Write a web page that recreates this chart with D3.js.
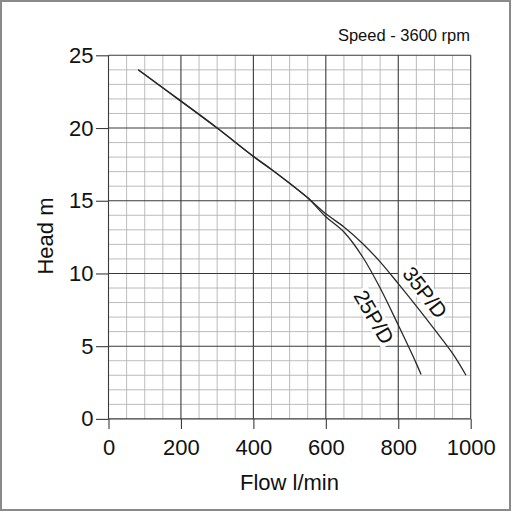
<!DOCTYPE html>
<html>
<head>
<meta charset="utf-8">
<script src="https://cdn.jsdelivr.net/npm/d3@7"></script>
<style>
  html, body { margin: 0; padding: 0; background: #fff; }
  svg { display: block; font-family: "Liberation Sans", Arial, sans-serif; }
</style>
</head>
<body>
<svg id="chart" width="512" height="512"></svg>
<script>
// ---- data ----
const xTicks = [0, 200, 400, 600, 800, 1000];
const yTicks = [0, 5, 10, 15, 20, 25];
const commonFlow = [82, 200, 300, 400, 450, 500, 550];
const commonHead = [24.0, 21.85, 20.0, 18.05, 17.15, 16.2, 15.2];
const flow35 = [600, 650, 700, 750, 800, 850, 900, 950, 987];
const head35 = [14.1, 13.2, 12.1, 10.8, 9.3, 7.75, 6.15, 4.5, 3.0];
const flow25 = [600, 650, 700, 750, 800, 850, 863];
const head25 = [13.9, 12.85, 11.2, 9.0, 6.45, 3.8, 3.05];
const seriesNames = ["35P/D", "25P/D"];
const titleText = "Speed - 3600 rpm";
const xTitle = "Flow l/min";
const yTitle = "Head m";

// ---- layout ----
const svg = d3.select("#chart");
const x = d3.scaleLinear().domain([0, 1000]).range([108.5, 470.7]);
const y = d3.scaleLinear().domain([0, 25]).range([418.9, 55.3]);

// outer frame
svg.append("rect").attr("x", 1).attr("y", 1).attr("width", 509).attr("height", 509)
  .attr("fill", "#fff").attr("stroke", "#8a8a8a").attr("stroke-width", 2);

const grid = svg.append("g");
// minor grid
d3.range(50, 1000, 50).filter(v => v % 200 !== 0).forEach(v => {
  grid.append("line").attr("x1", x(v)).attr("x2", x(v)).attr("y1", y(0)).attr("y2", y(25))
    .attr("stroke", "#b4b4b4").attr("stroke-width", 0.9);
});
d3.range(1, 25, 1).filter(v => v % 5 !== 0).forEach(v => {
  grid.append("line").attr("x1", x(0)).attr("x2", x(1000)).attr("y1", y(v)).attr("y2", y(v))
    .attr("stroke", "#b4b4b4").attr("stroke-width", 0.9);
});
// major grid
xTicks.forEach(v => {
  grid.append("line").attr("x1", x(v)).attr("x2", x(v)).attr("y1", y(0)).attr("y2", y(25))
    .attr("stroke", "#3a3a3a").attr("stroke-width", 1.1);
});
yTicks.forEach(v => {
  grid.append("line").attr("x1", x(0)).attr("x2", x(1000)).attr("y1", y(v)).attr("y2", y(v))
    .attr("stroke", "#3a3a3a").attr("stroke-width", 1.1);
});

// axes
const xAxis = svg.append("g").attr("transform", `translate(0,${y(0)})`)
  .call(d3.axisBottom(x).tickValues(xTicks).tickSize(10).tickPadding(10).tickFormat(d3.format("d")));
const yAxis = svg.append("g").attr("transform", `translate(${x(0)},0)`)
  .call(d3.axisLeft(y).tickValues(yTicks).tickSize(12.5).tickPadding(2.5).tickFormat(d3.format("d")));
[xAxis, yAxis].forEach(a => {
  a.select(".domain").remove();
  a.selectAll(".tick line").attr("stroke", "#3a3a3a").attr("stroke-width", 1.1);
  a.selectAll(".tick text").attr("fill", "#111").style("font-size", "22px")
    .style("font-family", "'Liberation Sans', Arial, sans-serif");
});

// curve label backgrounds
const labelLayer = svg.append("g");
const curveLayer = svg.append("g");
const textLayer = svg.append("g");
function curveLabel(txt, cx, cy, ang) {
  const g = textLayer.append("g").attr("transform", `translate(${cx},${cy}) rotate(${ang})`);
  const t = g.append("text").attr("text-anchor", "middle").attr("dy", "0.35em")
    .style("font-size", "21px").attr("fill", "#111").text(txt);
  const b = t.node().getBBox();
  labelLayer.append("rect").attr("transform", `translate(${cx},${cy}) rotate(${ang})`)
    .attr("x", b.x - 2).attr("y", b.y + 2).attr("width", b.width + 4)
    .attr("height", b.height - 4).attr("fill", "#fff");
}
curveLabel(seriesNames[0], 425, 292.5, 52.5);
curveLabel(seriesNames[1], 374, 317, 60);

// curves
const line = d3.line().x(d => x(d[0])).y(d => y(d[1])).curve(d3.curveCatmullRom.alpha(0.5));
const common = commonFlow.map((f, i) => [f, commonHead[i]]);
const c35 = common.concat(flow35.map((f, i) => [f, head35[i]]));
const c25 = common.concat(flow25.map((f, i) => [f, head25[i]]));
[c35, c25].forEach(c => {
  curveLayer.append("path").datum(c).attr("d", line).attr("fill", "none")
    .attr("stroke", "#2a2a2a").attr("stroke-width", 1.3);
});

// titles
svg.append("text").attr("x", 470).attr("y", 40.5).attr("text-anchor", "end")
  .style("font-size", "16.5px").attr("fill", "#111").text(titleText);
svg.append("text").attr("x", 289.5).attr("y", 490).attr("text-anchor", "middle")
  .style("font-size", "22px").attr("fill", "#111").text(xTitle);
svg.append("text").attr("transform", "translate(53,236) rotate(-90)").attr("text-anchor", "middle")
  .style("font-size", "22px").attr("fill", "#111").text(yTitle);
</script>
</body>
</html>
